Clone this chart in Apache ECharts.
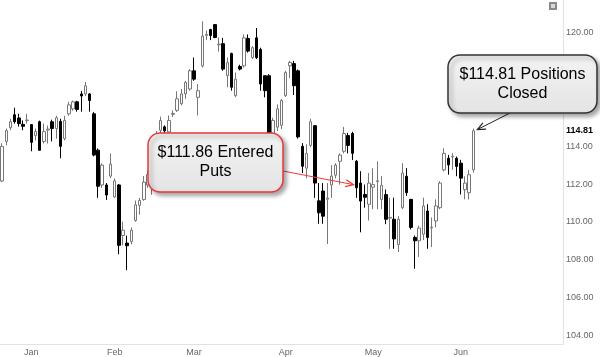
<!DOCTYPE html>
<html><head><meta charset="utf-8">
<script src="https://cdn.jsdelivr.net/npm/echarts@6/dist/echarts.min.js"></script>
<style>html,body{margin:0;padding:0;background:#fff}#c{width:600px;height:357px}</style>
</head><body><div id="c"></div>
<script>
const opens = [112.16,114.25,114.98,115.66,115.49,115.15,115.35,115.14,114.56,115.29,
114.25,114.85,115.29,114.93,115.31,114.40,115.71,115.97,116.34,116.76,
116.76,116.76,115.71,113.79,111.95,111.95,112.42,111.32,111.95,109.28,
108.88,108.97,110.07,110.87,111.18,111.95,112.50,113.60,114.84,115.02,
114.75,115.68,115.89,116.24,116.76,117.02,117.98,116.58,118.24,119.85,
120.16,120.42,119.35,119.41,117.72,118.89,116.67,118.21,118.24,119.69,
118.68,119.72,119.11,117.72,117.72,114.30,115.00,115.10,116.67,118.24,
118.36,117.98,113.99,112.84,114.04,115.08,111.11,111.63,111.20,111.95,
112.47,113.20,113.73,114.56,114.67,113.20,112.05,111.45,110.93,111.83,
112.13,111.18,111.44,110.20,110.14,108.80,110.75,112.41,111.19,109.18,
109.00,109.35,110.57,109.68,110.05,110.75,112.75,113.36,113.43,113.36,
113.10,111.70,111.54,112.75];
const closes = [113.99,114.82,115.29,115.29,115.19,115.05,115.38,114.20,114.77,113.78,
114.77,114.90,114.93,115.50,113.99,115.36,116.18,116.34,115.94,116.65,
117.19,116.41,113.53,111.88,113.00,111.42,113.05,112.17,108.76,109.56,
108.74,109.56,110.90,111.13,112.10,112.50,113.60,114.60,115.36,114.81,
115.36,115.73,116.50,116.76,117.37,117.98,117.54,116.93,119.81,119.90,
119.84,119.74,119.39,118.07,118.41,117.11,117.54,118.07,119.72,119.02,
119.20,118.68,117.28,116.93,114.00,115.36,115.97,116.41,117.89,118.42,
117.19,114.49,112.94,113.62,115.29,112.05,110.48,110.30,111.26,112.42,
113.00,113.53,114.67,114.04,113.62,111.80,111.10,111.30,112.05,111.97,
112.17,111.93,110.14,110.24,109.10,110.14,112.58,111.54,109.71,109.00,
109.67,110.84,109.18,109.72,110.84,112.05,113.62,113.01,113.47,112.93,
112.31,112.05,112.49,114.81];
const highs = [114.15,114.93,115.45,116.03,115.71,115.36,115.71,115.14,114.93,115.35,
115.19,115.09,115.40,115.60,115.45,115.60,116.34,116.41,116.40,116.92,
117.39,116.80,115.80,113.88,113.10,112.05,113.62,112.30,112.00,110.01,
109.28,109.70,111.13,111.27,112.42,112.70,113.80,114.80,115.56,115.10,
115.62,115.89,116.90,117.02,117.45,118.07,118.68,117.28,120.59,120.10,
120.20,120.45,119.74,119.72,118.68,118.94,117.89,118.30,119.90,119.90,
119.28,120.24,119.20,117.72,117.80,115.50,116.20,116.50,117.98,118.50,
118.50,118.05,114.16,114.10,115.45,115.10,112.05,112.05,112.05,113.00,
113.10,113.62,115.02,114.70,114.76,113.27,112.68,111.97,112.58,112.84,
113.20,112.42,111.71,111.28,111.28,110.30,113.10,112.84,111.20,109.28,
109.80,111.28,110.93,110.23,111.19,112.15,113.89,113.54,113.63,113.45,
113.28,112.41,112.75,114.93];
const lows = [112.10,114.04,114.85,115.19,115.03,114.84,115.19,113.73,114.30,113.78,
114.14,114.14,114.25,114.40,113.36,114.30,115.60,115.87,115.82,115.82,
116.65,115.82,113.46,111.27,111.80,111.16,112.31,111.27,108.29,108.76,
107.45,108.81,110.01,110.38,111.11,111.80,111.43,113.40,114.60,114.60,
114.50,115.54,115.80,116.15,116.50,116.93,117.45,115.62,118.15,119.60,
119.60,119.70,119.00,117.98,117.11,116.93,116.58,118.00,118.15,118.94,
118.60,118.60,116.93,116.58,113.60,114.00,114.80,114.90,116.60,117.60,
116.70,114.40,112.58,112.30,113.95,111.27,109.90,109.90,108.83,111.27,
112.30,111.97,113.62,113.62,113.27,111.27,109.45,110.75,110.07,110.67,
110.67,110.67,109.88,108.58,108.58,108.41,110.67,111.37,109.60,107.52,
108.15,109.04,108.58,108.67,109.71,110.67,112.67,112.49,112.76,112.41,
111.45,111.19,111.19,112.60];
const slotCount = 135;
const monthNames = ['Jan','Feb','Mar','Apr','May','Jun'];
const monthStartIdx = [7,27,46,68,89,110];
const priceTicks = [104,106,108,110,112,114,116,118,120];
const entryIdx = 85, entryPrice = 111.86;
const exitIdx = 113, exitPrice = 114.81;
const entryText = ['$111.86 Entered','Puts'];
const exitText = ['$114.81 Positions','Closed'];

const categories = Array.from({length: slotCount}, (_, i) => String(i));
const candles = opens.map((o, i) => [o, closes[i], lows[i], highs[i]]);
const FONT = '"Liberation Sans", Arial, sans-serif';

const chart = echarts.init(document.getElementById('c'), null, {renderer: 'canvas'});
chart.setOption({
  animation: false,
  grid: {left: 0, right: 37, top: 0, bottom: 9, containLabel: false},
  xAxis: {
    type: 'category', data: categories, boundaryGap: true,
    axisLine: {show: true, lineStyle: {color: '#e2e2e2'}},
    axisTick: {show: false}, splitLine: {show: false},
    axisLabel: {
      interval: (i) => monthStartIdx.includes(i),
      formatter: (v, i) => { const k = monthStartIdx.indexOf(i); return k >= 0 ? monthNames[k] : ''; },
      color: '#666', fontSize: 9, fontFamily: FONT, margin: 4
    }
  },
  yAxis: {
    type: 'value', position: 'right', min: 103.55, max: 121.72,
    axisLine: {show: true, lineStyle: {color: '#e2e2e2'}},
    axisTick: {show: false}, splitLine: {show: false},
    axisLabel: {customValues: priceTicks, formatter: v => v.toFixed(2), color: '#666', fontSize: 9, fontFamily: FONT, margin: 3}
  },
  series: [{
    type: 'candlestick', data: candles, barWidth: 3,
    itemStyle: {color: '#fff', color0: '#000', borderColor: '#777', borderColor0: '#000', borderWidth: 1},
    markLine: {
      silent: true, symbol: ['none', 'none'], animation: false,
      data: [{yAxis: exitPrice}],
      lineStyle: {color: 'rgba(0,0,0,0)', width: 1, type: 'solid'},
      label: {show: true, position: 'end', formatter: () => exitPrice.toFixed(2), color: '#000', fontWeight: 'bold', fontSize: 9, fontFamily: FONT, distance: 3}
    }
  }]
});

function arrow(from, to, color) {
  const dx = to[0] - from[0], dy = to[1] - from[1], len = Math.hypot(dx, dy);
  const ux = dx / len, uy = dy / len, ah = 8, aw = 3.5;
  const bx = to[0] - ux * ah, by = to[1] - uy * ah;
  const p1 = [bx - uy * aw, by + ux * aw], p2 = [bx + uy * aw, by - ux * aw];
  return [
    {type: 'line', z: 100, shape: {x1: from[0], y1: from[1], x2: to[0], y2: to[1]}, style: {stroke: color, lineWidth: 1}},
    {type: 'polyline', z: 100, shape: {points: [p1, to, p2]}, style: {stroke: color, lineWidth: 1.2, fill: null}}
  ];
}
function callout(b, stroke, lines) {
  return [
    {type: 'rect', z: 100, shape: {x: b.x, y: b.y, width: b.w, height: b.h, r: 12},
     style: {fill: {type: 'linear', x: 0, y: 0, x2: 0, y2: 1, colorStops: [{offset: 0, color: '#f3f3f3'}, {offset: 1, color: '#e4e4e4'}]},
             stroke: stroke, lineWidth: 1.5, shadowBlur: 4, shadowOffsetX: 3, shadowOffsetY: 3, shadowColor: 'rgba(0,0,0,0.35)'}},
    {type: 'text', z: 101, x: b.x + b.w / 2, y: b.y + b.h / 2,
     style: {text: lines.join('\n'), font: '16px ' + FONT, fill: '#000', align: 'center', verticalAlign: 'middle', lineHeight: 19}}
  ];
}
const box1 = {x: 148, y: 133, w: 135, h: 59};
const box2 = {x: 448, y: 55, w: 149, h: 58};
const pEntry = chart.convertToPixel({gridIndex: 0}, [entryIdx, entryPrice]);
const pExit = chart.convertToPixel({gridIndex: 0}, [exitIdx, highs[exitIdx]]);
const elements = [].concat(
  arrow([box1.x + box1.w, box1.y + 38], [pEntry[0] - 3, pEntry[1] - 2], '#ee3b3b'),
  arrow([510, box2.y + box2.h], [pExit[0] + 4, pExit[1] + 1], '#222'),
  callout(box1, '#e8383d', entryText),
  callout(box2, '#333', exitText),
  [{type: 'rect', z: 100, shape: {x: 549, y: 2, width: 8, height: 8}, style: {fill: '#8a8a8a'}},
   {type: 'rect', z: 101, shape: {x: 551, y: 4, width: 4, height: 4}, style: {fill: '#d8d8d8'}}]
);
chart.setOption({graphic: {elements: elements}});
</script></body></html>
